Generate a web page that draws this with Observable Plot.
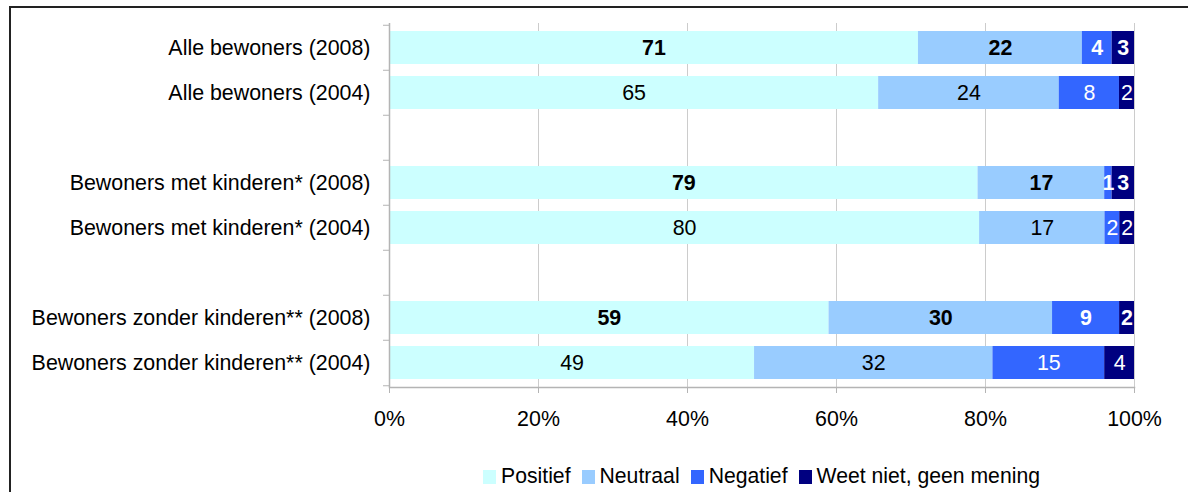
<!DOCTYPE html>
<html>
<head>
<meta charset="utf-8">
<script src="https://cdn.jsdelivr.net/npm/d3@7"></script>
<script src="https://cdn.jsdelivr.net/npm/@observablehq/plot@0.6"></script>
<style>
  html, body { margin: 0; padding: 0; background: #fff; }
  body { width: 1188px; height: 492px; position: relative; overflow: hidden; font-family: 'Liberation Sans', Arial, sans-serif; }
  #frame { position: absolute; left: 9px; top: 6px; width: 1300px; height: 600px; border-left: 2px solid #222; border-top: 2px solid #222; }
  #chart { position: absolute; left: 0; top: 0; }
  #legend { position: absolute; left: 389px; width: 745px; top: 464px; height: 24px; display: flex; justify-content: center; align-items: center; font-size: 21.2px; color: #000; }
  .item { display: flex; align-items: center; margin-right: 11px; }
  .item:last-child { margin-right: 0; }
  .sw { width: 13px; height: 14px; margin-right: 5px; margin-top: 2px; }
</style>
</head>
<body>
<div id="frame"></div>
<div id="chart"></div>
<div id="legend"></div>
<script>
const categories = [
  "Alle bewoners (2008)",
  "Alle bewoners (2004)",
  "gap1",
  "Bewoners met kinderen* (2008)",
  "Bewoners met kinderen* (2004)",
  "gap2",
  "Bewoners zonder kinderen** (2008)",
  "Bewoners zonder kinderen** (2004)"
];
const rows = [
  "Alle bewoners (2008)",
  "Alle bewoners (2004)",
  "Bewoners met kinderen* (2008)",
  "Bewoners met kinderen* (2004)",
  "Bewoners zonder kinderen** (2008)",
  "Bewoners zonder kinderen** (2004)"
];
const series = ["Positief", "Neutraal", "Negatief", "Weet niet, geen mening"];
const positief = [71, 65, 79, 80, 59, 49];
const neutraal = [22, 24, 17, 17, 30, 32];
const negatief = [4, 8, 1, 2, 9, 15];
const weetNiet = [3, 2, 3, 2, 2, 4];
const colors = ["#CCFFFF", "#99CCFF", "#3366FF", "#000080"];
const xTicks = [0, 0.2, 0.4, 0.6, 0.8, 1];

const seriesValues = [positief, neutraal, negatief, weetNiet];
const data = [];
rows.forEach((r, i) => {
  series.forEach((s, j) => {
    data.push({cat: r, series: s, value: seriesValues[j][i], bold: r.includes("2008"), dark: j >= 2});
  });
});

const FS = 21.4;
const axisColor = "#b4b4b4";

const labelMark = (subset, weight) => Plot.text(subset, Plot.stackX({
  x: "value", y: "cat", z: "series", offset: "normalize",
  text: d => String(d.value),
  fill: d => d.dark ? "#ffffff" : "#000000",
  fontWeight: weight,
  fontSize: FS
}));

const chart = Plot.plot({
  width: 1188,
  height: 450,
  marginLeft: 389,
  marginRight: 54,
  marginTop: 23,
  marginBottom: 63,
  style: {fontFamily: "'Liberation Sans', Arial, sans-serif", fontSize: FS + "px", color: "#000", background: "transparent", overflow: "visible"},
  x: {domain: [0, 1]},
  y: {domain: categories, paddingInner: 0.27, paddingOuter: 0.135},
  color: {domain: series, range: colors},
  marks: [
    Plot.gridX(xTicks.slice(1), {stroke: "#cccccc", strokeOpacity: 1}),
    Plot.barX(data, Plot.stackX({x: "value", y: "cat", z: "series", fill: "series", offset: "normalize"})),
    labelMark(data.filter(d => d.bold), "bold"),
    labelMark(data.filter(d => !d.bold), "normal"),
    Plot.ruleX([0], {stroke: axisColor, strokeWidth: 1.5}),
    Plot.frame({anchor: "bottom", stroke: axisColor, strokeWidth: 1.5}),
    Plot.axisX(xTicks, {tickSize: 6, tickPadding: 17, tickFormat: d => Math.round(d * 100) + "%", stroke: axisColor, label: null, fontSize: FS}),
    Plot.axisY({tickSize: 0, tickPadding: 19, tickFormat: d => d.startsWith("gap") ? "" : d, label: null, fontSize: FS}),
    Plot.axisY({tickSize: 6, tickFormat: () => "", dy: -22.75, stroke: axisColor, label: null}),
    Plot.axisY([categories[categories.length - 1]], {tickSize: 6, tickFormat: () => "", dy: 22.75, stroke: axisColor, label: null})
  ]
});
document.getElementById("chart").appendChild(chart);

const legend = document.getElementById("legend");
series.forEach((s, i) => {
  const it = document.createElement("div");
  it.className = "item";
  const sw = document.createElement("div");
  sw.className = "sw";
  sw.style.background = colors[i];
  const t = document.createElement("span");
  t.textContent = s;
  it.appendChild(sw);
  it.appendChild(t);
  legend.appendChild(it);
});
</script>
</body>
</html>
